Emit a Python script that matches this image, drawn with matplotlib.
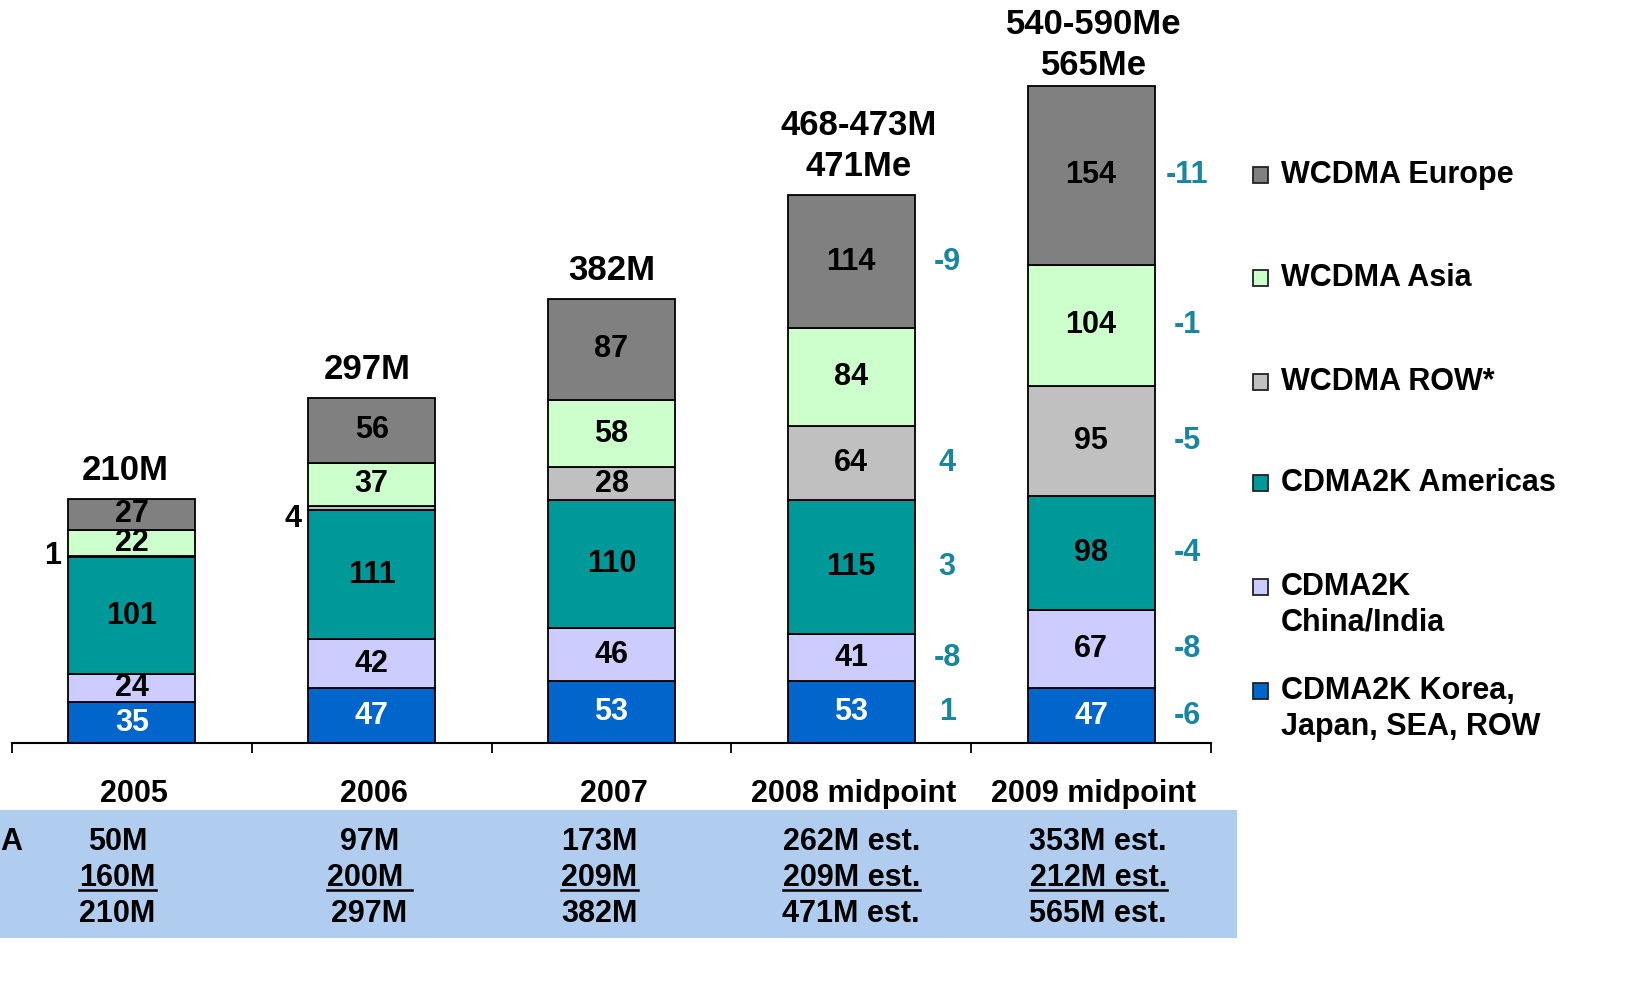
import numpy as np
import matplotlib
matplotlib.use("Agg")
import matplotlib.pyplot as plt
from matplotlib.patches import Rectangle
from matplotlib.transforms import blended_transform_factory
from matplotlib.lines import Line2D

plt.rcParams['font.family'] = ['Liberation Sans', 'DejaVu Sans']
plt.rcParams['font.weight'] = 'bold'

# data (millions of units)
years = ["2005", "2006", "2007", "2008 midpoint", "2009 midpoint"]
series = ["CDMA2K Korea,\nJapan, SEA, ROW", "CDMA2K\nChina/India", "CDMA2K Americas",
          "WCDMA ROW*", "WCDMA Asia", "WCDMA Europe"]
korea = [35, 47, 53, 53, 47]
china = [24, 42, 46, 41, 67]
americas = [101, 111, 110, 115, 98]
wcdma_row = [1, 4, 28, 64, 95]
wcdma_asia = [22, 37, 58, 84, 104]
wcdma_europe = [27, 56, 87, 114, 154]
totals = ["210M", "297M", "382M", "468-473M\n471Me", "540-590Me\n565Me"]
change_2008 = [1, -8, 3, 4, None, -9]
change_2009 = [-6, -8, -4, -5, -1, -11]
row_wcdma = ["50M", "97M", "173M", "262M est.", "353M est."]
row_cdma = ["160M", "200M ", "209M", "209M est.", "212M est."]
row_total = ["210M", "297M", "382M", "471M est.", "565M est."]

colors = ["#0066CC", "#CCCCFF", "#009999", "#C0C0C0", "#CCFFCC", "#808080"]
stack = [korea, china, americas, wcdma_row, wcdma_asia, wcdma_europe]

W, H = 1647, 992
fig = plt.figure(figsize=(W / 100, H / 100), dpi=100)

def fx(px):
    return px / W

def fy(py):
    return 1 - py / H

FS = 22

ax = fig.add_axes([fx(12), fy(743), fx(1211) - fx(12), 743 / H])
ax.set_xlim(-0.5, 4.5)
ax.set_ylim(0, 743 / 1.163)
for s in ["left", "right", "top"]:
    ax.spines[s].set_visible(False)
ax.spines["bottom"].set_linewidth(1.5)
ax.set_xticks(np.arange(-0.5, 5, 1))
ax.set_xticklabels([])
ax.tick_params(axis="x", direction="out", length=7.5, width=1.3)
ax.set_yticks([])

# small ROW slices are labelled left of the bar (vertical nudge in data units)
small_dy = {0: 0, 1: -9}

x = np.arange(len(years))
bottom = np.zeros(len(years))
for i, (vals, col) in enumerate(zip(stack, colors)):
    vals = np.array(vals)
    ax.bar(x, vals, 0.53, bottom=bottom, color=col, edgecolor="black", linewidth=1.3)
    for j, v in enumerate(vals):
        yc = bottom[j] + v / 2
        if i == 3 and v < 10:
            ax.text(j - 0.33, yc + small_dy.get(j, 0), str(v), ha="center", va="center",
                    fontsize=FS)
            continue
        ax.text(j, yc, str(v), ha="center", va="center", fontsize=FS,
                color="white" if i == 0 else "black")
    bottom += vals

# totals above the bars
tot_dx = [-7, -4, 0, 7, 3]
tot_dy = [12, 12, 12, 12, 4]
for j, t in enumerate(totals):
    ax.annotate(t, (j, bottom[j]), xytext=(tot_dx[j] * 0.72, tot_dy[j] * 0.72),
                textcoords="offset points", ha="center", va="bottom", fontsize=25,
                linespacing=1.3)

# year-over-year changes beside the last two bars
teal = "#17869E"
for j, ch in [(3, change_2008), (4, change_2009)]:
    b = 0
    for i, c in enumerate(ch):
        v = stack[i][j]
        if c is not None:
            ax.text(j + 0.4, b + v / 2, str(c), ha="center", va="center",
                    fontsize=FS, color=teal)
        b += v

# year labels and table under the axis
trans = blended_transform_factory(ax.transData, fig.transFigure)
for j, y in enumerate(years):
    ax.text(j + 0.01, fy(794), y, transform=trans, ha="center", va="center", fontsize=FS)

fig.patches.append(Rectangle((0, fy(938)), fx(1237), fy(810) - fy(938),
                             transform=fig.transFigure, facecolor="#B0CCEE",
                             edgecolor="none", zorder=-5))
fig.text(0, fy(842), "A", ha="left", va="center", fontsize=FS)
col_shift = [-0.06, -0.01, -0.05, 0.0, 0.03]
underlined = []
for j in range(len(years)):
    xc = j + col_shift[j]
    ax.text(xc, fy(842), row_wcdma[j], transform=trans, ha="center", va="center", fontsize=FS)
    t = ax.text(xc, fy(878), row_cdma[j], transform=trans, ha="center", va="center", fontsize=FS)
    underlined.append(t)
    ax.text(xc, fy(914), row_total[j], transform=trans, ha="center", va="center", fontsize=FS)

fig.canvas.draw()
r = fig.canvas.get_renderer()
for t in underlined:
    bb = t.get_window_extent(r)
    yl = fy(890)
    fig.add_artist(Line2D([bb.x0 / W, bb.x1 / W], [yl, yl], color="black", lw=1.8))

# legend on the right
leg_y = [175, 278, 382, 483, 605, 709]
for i in range(len(series) - 1, -1, -1):
    k = len(series) - 1 - i
    yc = leg_y[k]
    nlines = series[i].count("\n") + 1
    ysq = yc if nlines == 1 else yc - 18
    fig.add_artist(Rectangle((fx(1253), fy(ysq + 8)), fx(15), 16 / H,
                             transform=fig.transFigure, facecolor=colors[i],
                             edgecolor="#222222", linewidth=1.3))
    fig.text(fx(1281), fy(yc), series[i], ha="left", va="center", fontsize=FS,
             linespacing=1.25)

fig.savefig("out.png", dpi=100)
